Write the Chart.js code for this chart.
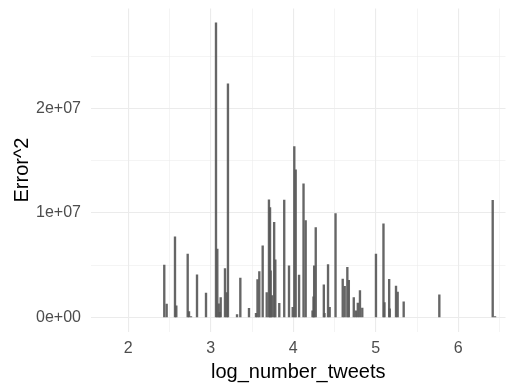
<!DOCTYPE html>
<html>
<head>
<meta charset="utf-8">
<script src="https://cdn.jsdelivr.net/npm/chart.js@4/dist/chart.umd.min.js"></script>
<style>
  html, body { margin: 0; padding: 0; background: #ffffff; }
  #wrap { width: 506px; height: 387px; }
</style>
</head>
<body>
<div id="wrap"><canvas id="c" width="506" height="387"></canvas></div>
<script>
// log10 of tweet count for each account
const logNumberTweets = [
  2.436, 2.465, 2.566, 2.582, 2.720, 2.736, 2.760, 2.833, 2.942,
  3.063, 3.079, 3.096, 3.108, 3.120, 3.172, 3.193, 3.208, 3.318, 3.358, 3.463,
  3.548, 3.566, 3.588, 3.629, 3.678, 3.705, 3.718, 3.726, 3.742, 3.768, 3.782, 3.830, 3.890, 3.948,
  3.993, 4.012, 4.029, 4.070, 4.124, 4.150, 4.233, 4.245, 4.253, 4.272,
  4.370, 4.378, 4.421, 4.441, 4.512, 4.599, 4.623, 4.655, 4.673, 4.733, 4.758, 4.782, 4.808, 4.836,
  5.002, 5.093, 5.105, 5.162, 5.169, 5.245, 5.265, 5.338,
  5.770, 6.417, 6.445
];

// squared prediction error for each account
const errorSquared = [
  5.01e6, 1.28e6, 7.72e6, 1.12e6, 6.07e6, 0.57e6, 0.07e6, 4.09e6, 2.32e6,
  28.23e6, 6.55e6, 1.31e6, 0.48e6, 1.91e6, 4.69e6, 2.39e6, 22.39e6, 0.26e6, 3.77e6, 0.86e6,
  0.38e6, 3.63e6, 4.40e6, 6.86e6, 2.39e6, 11.26e6, 10.53e6, 4.47e6, 2.08e6, 9.11e6, 5.52e6, 1.34e6, 11.24e6, 4.95e6,
  0.96e6, 16.38e6, 14.13e6, 4.06e6, 12.79e6, 9.28e6, 0.64e6, 1.98e6, 4.95e6, 8.61e6,
  3.11e6, 0.38e6, 5.07e6, 0.96e6, 9.95e6, 3.67e6, 2.99e6, 4.80e6, 3.55e6, 1.89e6, 0.64e6, 1.38e6, 2.56e6, 0.90e6,
  6.07e6, 8.97e6, 1.41e6, 3.65e6, 0.83e6, 3.00e6, 2.43e6, 1.50e6,
  2.17e6, 11.23e6, 0.07e6
];

// axis breaks: labelled majors plus unlabelled minors
const xMajorTicks = [2, 3, 4, 5, 6];
const xTickLabels = ['2', '3', '4', '5', '6'];
const xMinorTicks = [2.5, 3.5, 4.5, 5.5, 6.5];
const yMajorTicks = [0, 1e7, 2e7];
const yTickLabels = ['0e+00', '1e+07', '2e+07'];
const yMinorTicks = [5e6, 1.5e7, 2.5e7];

const FONT = "'Liberation Sans', Arial, Helvetica, sans-serif";
const GRID = '#ebebeb';

function breakList(major, minor) {
  return major.concat(minor).sort((a, b) => a - b).map(v => ({ value: v }));
}
function labelFor(major, labels, v) {
  const i = major.findIndex(m => Math.abs(m - v) < 1e-9 * Math.max(1, Math.abs(m)));
  return i >= 0 ? labels[i] : '';
}
function isMajor(major, v) {
  return major.some(m => Math.abs(m - v) < 1e-9 * Math.max(1, Math.abs(m)));
}
// keep the panel edges fixed: no extra room reserved for overhanging labels
function noOverhang(s) {
  s.paddingTop = 0; s.paddingBottom = 0; s.paddingLeft = 0; s.paddingRight = 0;
}

new Chart(document.getElementById('c'), {
  type: 'bar',
  data: {
    datasets: [{
      data: logNumberTweets.map((x, i) => ({ x: x, y: errorSquared[i] })),
      backgroundColor: 'rgba(89,89,89,0.92)',
      borderWidth: 0,
      barThickness: 1.7
    }]
  },
  options: {
    responsive: false,
    animation: false,
    layout: { padding: { top: 8.5, right: 0.5, bottom: 0, left: 0 } },
    plugins: { legend: { display: false }, tooltip: { enabled: false } },
    scales: {
      x: {
        type: 'linear',
        min: 1.548,
        max: 6.572,
        offset: false,
        afterBuildTicks: s => { s.ticks = breakList(xMajorTicks, xMinorTicks); },
        afterFit: s => { s.height = 55.5; noOverhang(s); },
        border: { display: false },
        grid: {
          offset: false,
          drawTicks: false,
          color: GRID,
          lineWidth: ctx => isMajor(xMajorTicks, ctx.tick.value) ? 1.1 : 0.55
        },
        ticks: {
          padding: 7,
          autoSkip: false,
          maxRotation: 0,
          color: '#4d4d4d',
          font: { family: FONT, size: 16 },
          callback: v => labelFor(xMajorTicks, xTickLabels, v)
        },
        title: {
          display: true,
          text: 'log_number_tweets',
          color: '#000000',
          font: { family: FONT, size: 20, lineHeight: 1.2 },
          padding: { top: 0, bottom: 3 }
        }
      },
      y: {
        type: 'linear',
        min: -1.35e6,
        max: 29.6e6,
        afterBuildTicks: s => { s.ticks = breakList(yMajorTicks, yMinorTicks); },
        afterFit: s => { s.width = 91; noOverhang(s); },
        border: { display: false },
        grid: {
          drawTicks: false,
          color: GRID,
          lineWidth: ctx => isMajor(yMajorTicks, ctx.tick.value) ? 1.1 : 0.55
        },
        ticks: {
          padding: 10,
          autoSkip: false,
          color: '#4d4d4d',
          font: { family: FONT, size: 16 },
          callback: v => labelFor(yMajorTicks, yTickLabels, v)
        },
        title: {
          display: true,
          text: 'Error^2',
          color: '#000000',
          font: { family: FONT, size: 20, lineHeight: 1.2 },
          padding: { top: 10, bottom: 0 }
        }
      }
    }
  }
});
</script>
</body>
</html>
